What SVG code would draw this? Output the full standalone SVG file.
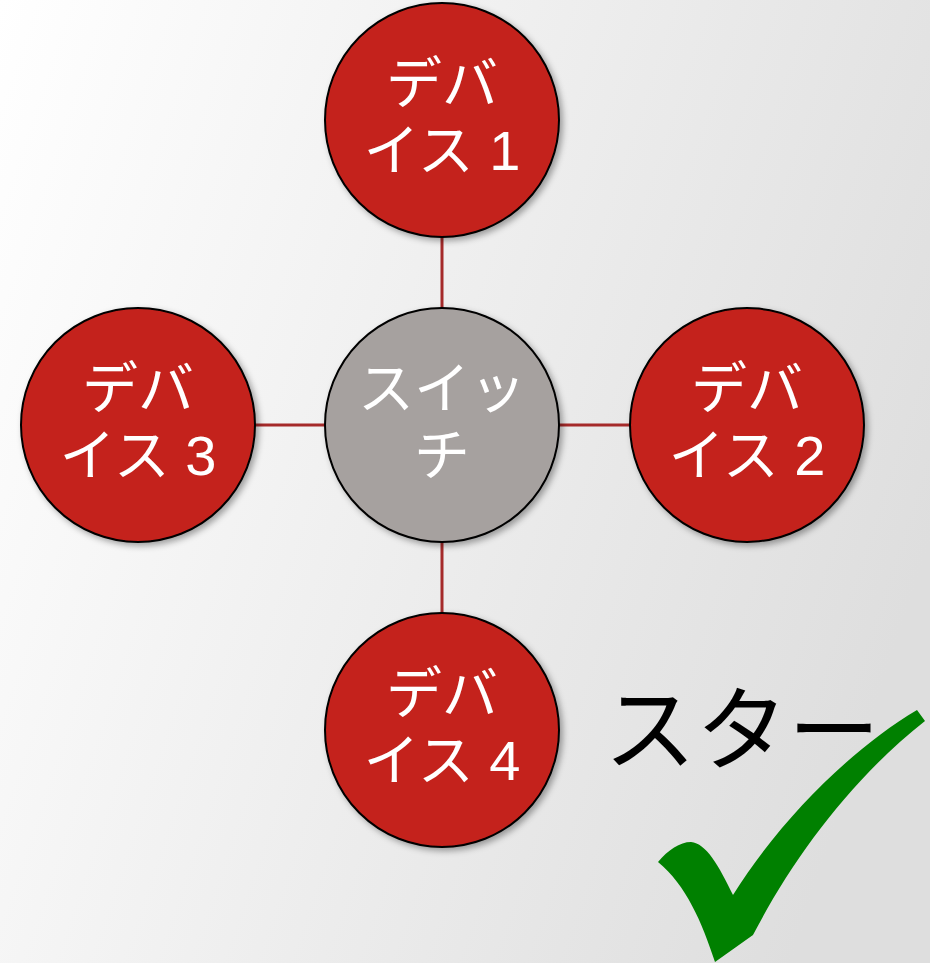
<svg xmlns="http://www.w3.org/2000/svg" width="930" height="963" viewBox="0 0 930 963">
  <defs>
    <linearGradient id="bg" gradientUnits="userSpaceOnUse" x1="0" y1="0" x2="1000" y2="330">
      <stop offset="0" stop-color="#FFFFFF"/>
      <stop offset="1" stop-color="#DEDEDE"/>
    </linearGradient>
    <filter id="shadow" x="-20%" y="-20%" width="140%" height="140%">
      <feDropShadow dx="3" dy="3" stdDeviation="3" flood-color="#000" flood-opacity="0.35"/>
    </filter>
    <style>
      .link { stroke: #A52A2A; stroke-width: 3; fill: none; }
      .dev { fill: #C4221B; stroke: #000; stroke-width: 2; filter: url(#shadow); }
      .sw { fill: #A6A19F; stroke: #000; stroke-width: 2; filter: url(#shadow); }
      .lbl { font-family: "Liberation Sans", "Noto Sans CJK JP", sans-serif; font-size: 56px; fill: #FFFFFF; text-anchor: middle; }
      .title { font-family: "Noto Sans CJK JP", sans-serif; font-size: 92px; fill: #000; }
    </style>
  </defs>

  <rect width="930" height="963" fill="url(#bg)"/>

  <!-- links from the switch to each device -->
  <g id="connectors">
    <line class="link" x1="442" y1="237" x2="442" y2="308"/>
    <line class="link" x1="442" y1="542" x2="442" y2="613"/>
    <line class="link" x1="255" y1="425" x2="325" y2="425"/>
    <line class="link" x1="559" y1="425" x2="630" y2="425"/>
  </g>

  <g id="device1">
    <circle class="dev" cx="442" cy="120" r="117"/>
    <text class="lbl" x="442" y="103">デバ</text>
    <text class="lbl" x="442" y="170">イス 1</text>
  </g>

  <g id="switch">
    <circle class="sw" cx="442" cy="425" r="117"/>
    <text class="lbl" x="442" y="408">スイッ</text>
    <text class="lbl" x="442" y="475">チ</text>
  </g>

  <g id="device3">
    <circle class="dev" cx="138" cy="425" r="117"/>
    <text class="lbl" x="138" y="408">デバ</text>
    <text class="lbl" x="138" y="475">イス 3</text>
  </g>

  <g id="device2">
    <circle class="dev" cx="747" cy="425" r="117"/>
    <text class="lbl" x="747" y="408">デバ</text>
    <text class="lbl" x="747" y="475">イス 2</text>
  </g>

  <g id="device4">
    <circle class="dev" cx="442" cy="730" r="117"/>
    <text class="lbl" x="442" y="713">デバ</text>
    <text class="lbl" x="442" y="780">イス 4</text>
  </g>

  <g id="caption">
    <text class="title" x="604" y="763">スター</text>
  </g>

  <!-- green tick -->
  <g id="checkmark">
    <path fill="#008000" d="M 658 862 C 668 850 680 842 691 842 C 706 843 719 866 733 895 C 780 820 850 750 917 710 L 925 721 C 850 780 792 860 753 935 L 715 962 C 702 922 686 885 658 862 Z"/>
  </g>
</svg>
